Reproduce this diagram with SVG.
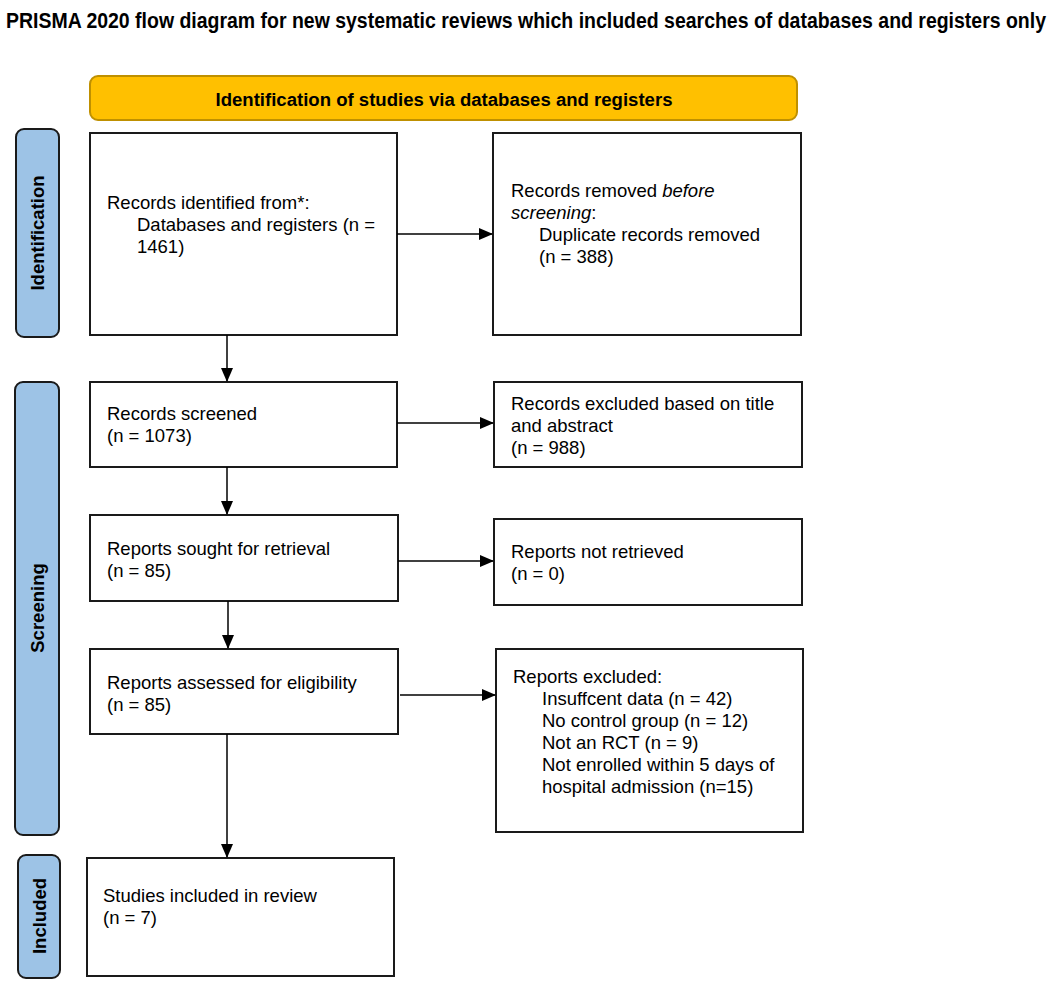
<svg xmlns="http://www.w3.org/2000/svg" width="1052" height="982" viewBox="0 0 1052 982">
<style>
.box{fill:#fff;stroke:#1a1a1a;stroke-width:2}
.side{fill:#9dc3e6;stroke:#1a1a1a;stroke-width:2}
.t{font-family:"Liberation Sans",Arial,sans-serif;font-size:18.5px;fill:#000}
.st{font-family:"Liberation Sans",Arial,sans-serif;font-size:18.5px;font-weight:bold;fill:#000;text-anchor:middle}
.conn{stroke:#000;stroke-width:1.5;fill:none;marker-end:url(#ah)}
</style>
<defs>
<marker id="ah" markerUnits="userSpaceOnUse" markerWidth="14" markerHeight="12" refX="13" refY="6" orient="auto">
<path d="M0,0 L14,6 L0,12 Z" fill="#000"/>
</marker>
</defs>
<rect width="1052" height="982" fill="#fff"/>
<text x="526" y="28" text-anchor="middle" textLength="1040" lengthAdjust="spacingAndGlyphs" style="font-family:'Liberation Sans',Arial,sans-serif;font-size:22px;font-weight:bold">PRISMA 2020 flow diagram for new systematic reviews which included searches of databases and registers only</text>

<g id="banner">
<rect x="90" y="76" width="707" height="44" rx="8" fill="#ffc000" stroke="#bf9000" stroke-width="2"/>
<text x="444" y="106" text-anchor="middle" textLength="457" lengthAdjust="spacingAndGlyphs" style="font-family:'Liberation Sans',Arial,sans-serif;font-size:18px;font-weight:bold">Identification of studies via databases and registers</text>
</g>

<g id="side-identification">
<rect class="side" x="16" y="129" width="43" height="208" rx="8"/>
<text class="st" transform="translate(44,233) rotate(-90)">Identification</text>
</g>
<g id="side-screening">
<rect class="side" x="15" y="382" width="44" height="453" rx="8"/>
<text class="st" transform="translate(44,608) rotate(-90)">Screening</text>
</g>
<g id="side-included">
<rect class="side" x="18" y="855" width="42" height="123" rx="8"/>
<text class="st" transform="translate(45.5,916) rotate(-90)">Included</text>
</g>

<g id="n-identified">
<rect class="box" x="90" y="133" width="307" height="202"/>
<text class="t" x="107" y="209">Records identified from*:</text>
<text class="t" x="137" y="231">Databases and registers (n =</text>
<text class="t" x="137" y="253">1461)</text>
</g>
<g id="n-removed">
<rect class="box" x="493" y="133" width="308" height="202"/>
<text class="t" x="511" y="197">Records removed <tspan font-style="italic">before</tspan></text>
<text class="t" x="511" y="219"><tspan font-style="italic">screening</tspan>:</text>
<text class="t" x="539" y="241">Duplicate records removed</text>
<text class="t" x="539" y="263">(n = 388)</text>
</g>
<g id="n-screened">
<rect class="box" x="90" y="382" width="307" height="85"/>
<text class="t" x="107" y="420">Records screened</text>
<text class="t" x="107" y="442">(n = 1073)</text>
</g>
<g id="n-excluded-ta">
<rect class="box" x="494" y="382" width="308" height="85"/>
<text class="t" x="511" y="410">Records excluded based on title</text>
<text class="t" x="511" y="432">and abstract</text>
<text class="t" x="511" y="454">(n = 988)</text>
</g>
<g id="n-sought">
<rect class="box" x="90" y="515" width="308" height="86"/>
<text class="t" x="107" y="555">Reports sought for retrieval</text>
<text class="t" x="107" y="577">(n = 85)</text>
</g>
<g id="n-notretrieved">
<rect class="box" x="494" y="519" width="308" height="86"/>
<text class="t" x="511" y="558">Reports not retrieved</text>
<text class="t" x="511" y="580">(n = 0)</text>
</g>
<g id="n-assessed">
<rect class="box" x="90" y="649" width="308" height="85"/>
<text class="t" x="107" y="689">Reports assessed for eligibility</text>
<text class="t" x="107" y="711">(n = 85)</text>
</g>
<g id="n-excluded-reports">
<rect class="box" x="496" y="649" width="307" height="183"/>
<text class="t" x="513" y="683">Reports excluded:</text>
<text class="t" x="542" y="705">Insuffcent data (n = 42)</text>
<text class="t" x="542" y="727">No control group (n = 12)</text>
<text class="t" x="542" y="749">Not an RCT (n = 9)</text>
<text class="t" x="542" y="771">Not enrolled within 5 days of</text>
<text class="t" x="542" y="793">hospital admission (n=15)</text>
</g>
<g id="n-included">
<rect class="box" x="87" y="858" width="307" height="118"/>
<text class="t" x="103" y="902">Studies included in review</text>
<text class="t" x="103" y="924">(n = 7)</text>
</g>

<g id="connectors">
<line class="conn" x1="397" y1="234" x2="492" y2="234"/>
<line class="conn" x1="227" y1="335" x2="227" y2="381"/>
<line class="conn" x1="397" y1="423" x2="493" y2="423"/>
<line class="conn" x1="227" y1="467" x2="227" y2="514"/>
<line class="conn" x1="398" y1="561" x2="493" y2="561"/>
<line class="conn" x1="228" y1="601" x2="228" y2="648"/>
<line class="conn" x1="400" y1="695" x2="495" y2="695"/>
<line class="conn" x1="227" y1="734" x2="227" y2="857"/>
</g>
</svg>
